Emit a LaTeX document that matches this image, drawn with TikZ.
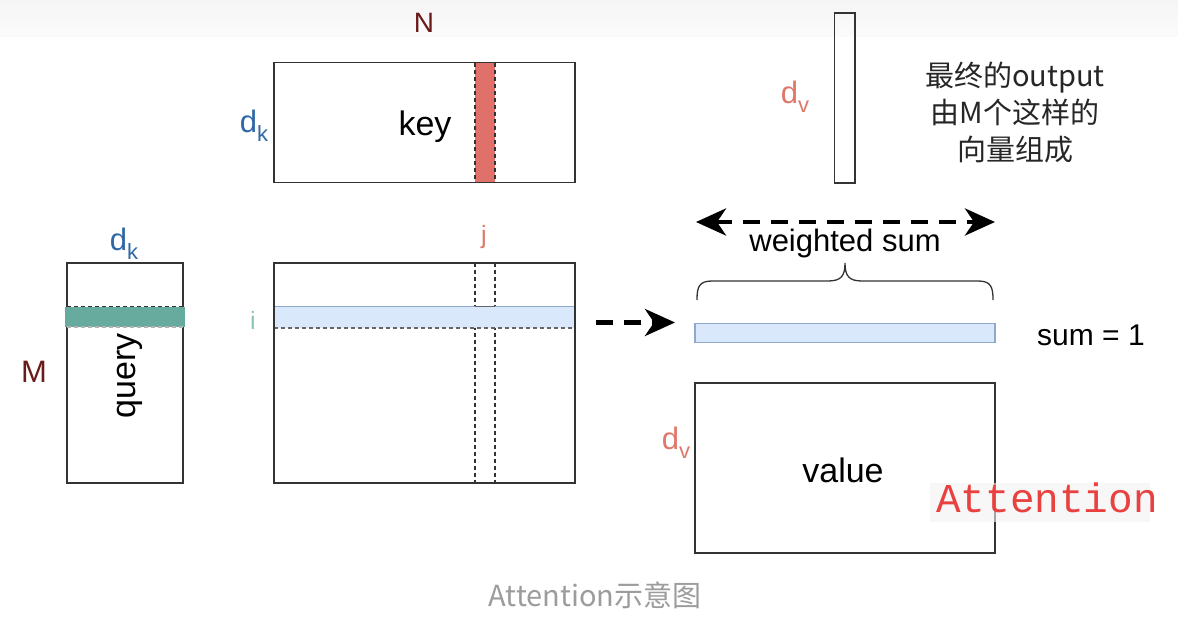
\documentclass[tikz,border=0pt]{standalone}
\usepackage{fontspec}
\setmainfont{Liberation Sans}
\newfontfamily\cjk{Noto Sans CJK SC}
\newfontfamily\handfont{Liberation Mono}
\usetikzlibrary{arrows.meta,calc}
\definecolor{dkred}{HTML}{6B1A1A}
\definecolor{dkblue}{HTML}{2F68A6}
\definecolor{salmon}{HTML}{E0776B}
\definecolor{tealtxt}{HTML}{8CC7B4}
\definecolor{greenfill}{HTML}{67AB9F}
\definecolor{bluefill}{HTML}{DAE8FC}
\definecolor{bluestroke}{HTML}{8FA8CC}
\definecolor{redfill}{HTML}{E0706A}
\definecolor{capgray}{HTML}{9C9C9C}
\definecolor{hand}{HTML}{E8413F}
\definecolor{linec}{HTML}{333333}
\tikzset{
  box/.style={draw=linec, line width=1.6pt, inner sep=0pt, outer sep=0pt},
  lbl/.style={inner sep=0pt, outer sep=0pt, text=black, font=\fontsize{34}{38}\selectfont},
  dlbl/.style={inner sep=0pt, outer sep=0pt, font=\fontsize{31}{36}\selectfont},
  tipstyle/.style={},
  darrow/.style={line width=4.5pt, dash pattern=on 17pt off 11pt,
    -{Stealth[length=30pt,width=27pt,inset=9pt]}},
  dashln/.style={line width=1.3pt, dash pattern=on 4pt off 3pt}
}
\newcommand{\dsub}[1]{d\raisebox{-0.28em}{\fontsize{22}{22}\selectfont #1}}
\begin{document}
\begin{tikzpicture}[x=1pt,y=-1pt]
\useasboundingbox (0,0) rectangle (1178,637);
\fill[white] (0,0) rectangle (1178,637);
\shade[top color=black!4, bottom color=black!1.5] (0,0) rectangle (1178,36);

% ---------- key ----------
\fill[redfill] (475,62.5) rectangle (495,182.7);
\draw[dashln, draw=linec] (475,62.5) -- (475,182.7);
\draw[dashln, draw=linec] (495,62.5) -- (495,182.7);
\node[box, minimum width=301pt, minimum height=120pt] (key) at (424.5,122.6) {};
\node[lbl] (keytxt) at (425,127) {key};
\node[dlbl, text=dkred, font=\fontsize{28}{32}\selectfont] (N) at (424,23) {N};
\node[dlbl, text=dkblue] (dk1) at (254,126) {\dsub{k}};

% ---------- query ----------
\node[box, minimum width=116pt, minimum height=220pt] (query) at (125,372.7) {};
\fill[greenfill] (65,306.7) rectangle (185,327);
\draw[dashln, draw=linec] (67,306.7) -- (183,306.7);
\draw[dashln, draw=black!30] (67,327) -- (183,327);
\node[lbl, rotate=90] (qtxt) at (130,376) {query};
\node[dlbl, text=dkblue] (dk2) at (124,244) {\dsub{k}};
\node[dlbl, text=dkred] (M) at (34,372) {M};

% ---------- score matrix ----------
\draw[dashln, draw=linec] (475,262.7) -- (475,482.7);
\draw[dashln, draw=linec] (495,262.7) -- (495,482.7);
\fill[bluefill] (274,306.7) rectangle (575,328);
\draw[line width=1.2pt, draw=bluestroke] (274,306.7) -- (575,306.7);
\draw[dashln, draw=black!60] (274,328) -- (575,328);
\draw[line width=1.3pt, draw=black!60] (475,306.7) -- (495,306.7);
\node[box, minimum width=301pt, minimum height=220pt] (scores) at (424.5,372.7) {};
\node[dlbl, text=salmon, font=\fontsize{25}{30}\selectfont] (j) at (484,237) {j};
\node[dlbl, text=tealtxt, font=\fontsize{25}{30}\selectfont] (i) at (253,320) {i};

% ---------- arrow to weights ----------
\coordinate (a1) at (596,322.5);
\coordinate (a2) at (675,322.5);
\draw[darrow] (a1) -- (a2);

% ---------- weights bar ----------
\node[draw=bluestroke, fill=bluefill, line width=1.4pt, inner sep=0pt,
      minimum width=300pt, minimum height=19.4pt] (bar) at (845,333) {};
\node[lbl, font=\fontsize{30}{34}\selectfont] (sum1) at (1091,335) {sum = 1};

% ---------- brace ----------
\coordinate (bl) at (697,300);
\coordinate (br) at (993,300);
\draw[line width=1.3pt, draw=linec] (bl) .. controls (697,287) and (699,281) .. (712,281)
  -- (828,281) .. controls (841,281) and (845,276) .. (845,263)
  .. controls (845,276) and (849,281) .. (862,281)
  -- (978,281) .. controls (991,281) and (993,287) .. (br);
\node[lbl, font=\fontsize{31}{36}\selectfont] (ws) at (845,243) {weighted sum};

% ---------- double arrow ----------
\coordinate (d1) at (696,222);
\coordinate (d2) at (995,222);
\draw[line width=4.5pt, dash pattern=on 17pt off 11pt,
  {Stealth[length=30pt,width=27pt,inset=9pt]}-{Stealth[length=30pt,width=27pt,inset=9pt]}] (d1) -- (d2);

% ---------- output vector ----------
\node[box, minimum width=20.5pt, minimum height=170pt] (out) at (844.7,97.7) {};
\node[dlbl, text=salmon] (dv1) at (795,97) {\dsub{v}};
\node[inner sep=0pt, align=center, font=\cjk\fontsize{29}{37}\selectfont, text=black!85] (note) at (1015,113)
  {最终的output\\由M个这样的\\向量组成};

% ---------- value ----------
\node[box, minimum width=300pt, minimum height=170pt] (value) at (845,467.7) {};
\node[lbl] (valtxt) at (843,470) {value};
\node[dlbl, text=salmon] (dv2) at (676,443) {\dsub{v}};

% ---------- handwritten note ----------
\fill[black!5, opacity=0.6] (930,483) rectangle (1150,522);
\node[inner sep=0pt, text=hand, font=\handfont\fontsize{41}{44}\selectfont] (hand) at (1047,498) {Attention};

% ---------- caption ----------
\node[inner sep=0pt, text=capgray, font=\cjk\fontsize{29}{32}\selectfont] (cap) at (595,595) {Attention示意图};
\end{tikzpicture}
\end{document}
